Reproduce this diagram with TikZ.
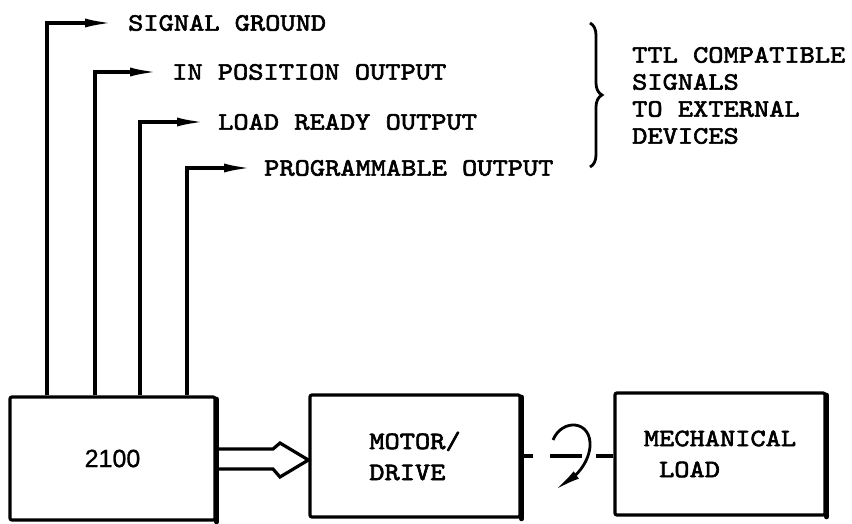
\documentclass[tikz,border=0pt]{standalone}
\usepackage{fontspec}
\newfontfamily\monof[FakeStretch=1.16, FakeBold=2.4]{lmmono10-regular.otf}
\newfontfamily\sansf[FakeBold=1]{Liberation Sans}
\usetikzlibrary{arrows.meta,decorations.pathreplacing}
\begin{document}
\begin{tikzpicture}[x=1pt,y=-1pt,
  lw/.style={line width=3.2pt},
  mono/.style={font=\monof\fontsize{25}{27}\selectfont, inner sep=0pt},
  blk/.style={draw, line width=3.2pt, rounded corners=2pt, inner sep=0pt},
  boxtext/.style={font=\monof\fontsize{25}{31}\selectfont, align=left},
  sig/.style={line width=3.2pt, -{Latex[length=28pt,width=9pt]}},
  thickedge/.style={line width=5.5pt, line cap=round},
  hollow/.style={line width=3.2pt, line join=miter},
]
\useasboundingbox (0,0) rectangle (852,524);

% blocks
\node[blk, minimum width=205pt, minimum height=123pt,
      font=\sansf\fontsize{25}{30}\selectfont] (ctrl) at (112.5,458.5) {2100};
\node[blk, minimum width=210pt, minimum height=122pt, boxtext] (motor) at (415,456) {MOTOR/\\DRIVE};
\node[blk, minimum width=210pt, minimum height=122pt, boxtext] (mech) at (720,454) {MECHANICAL\\\hphantom{M}LOAD};

\draw[thickedge] ([yshift=-4pt]ctrl.north east) -- (ctrl.south east);
\draw[thickedge] ([yshift=-4pt]motor.north east) -- (motor.south east);
\draw[thickedge] ([yshift=-4pt]mech.north east) -- (mech.south east);

% output labels
\node[mono, anchor=west] (sg) at (128,23) {SIGNAL GROUND};
\node[mono, anchor=west] (ip) at (172,72) {IN POSITION OUTPUT};
\node[mono, anchor=west] (lr) at (218,122) {LOAD READY OUTPUT};
\node[mono, anchor=west] (po) at (264,168) {PROGRAMMABLE OUTPUT};

% signal lines
\coordinate (x1) at (47,0);
\coordinate (x2) at (95,0);
\coordinate (x3) at (140,0);
\coordinate (x4) at (187,0);
\draw[sig] (ctrl.north -| x1) |- ([xshift=-15pt]sg.west);
\draw[sig] (ctrl.north -| x2) |- ([xshift=-14pt]ip.west);
\draw[sig] (ctrl.north -| x3) |- ([xshift=-13pt]lr.west);
\draw[sig] (ctrl.north -| x4) |- ([xshift=-12pt]po.west);

% brace and note
\coordinate (br1) at (590,23);
\coordinate (br2) at (590,167);
\draw[line width=2.8pt, decorate, decoration={brace, amplitude=12pt}] (br1) -- (br2);
\node[mono, anchor=west, align=left] (ttl) at (632,95.5)
  {TTL COMPATIBLE\\SIGNALS\\TO EXTERNAL\\DEVICES};

% hollow data arrow
\coordinate (h1) at (0,449);
\coordinate (h2) at (0,469);
\coordinate (ht) at (0,460);
\draw[hollow] (ctrl.east |- h1) -- (273,449) -- (280,443) -- (motor.west |- ht)
  -- (280,477) -- (273,469) -- (ctrl.east |- h2);

% mechanical coupling
\coordinate (c1) at (533,456);
\coordinate (c2) at (550,456);
\coordinate (c3) at (582,456);
\coordinate (c4) at (596,456);
\draw[lw] (motor.east) -- (c1);
\draw[lw] (c2) -- (c3);
\draw[lw] (c4) -- (mech.west |- c4);
\coordinate (r0) at (553,440);
\coordinate (r1) at (590,447);
\coordinate (r2) at (555,490);
\draw[line width=2.8pt, -{Latex[length=26pt,width=9pt]}]
  (r0) .. controls (562,418) and (592,420) .. (r1)
       .. controls (588,466) and (572,478) .. (r2);
\end{tikzpicture}
\end{document}
